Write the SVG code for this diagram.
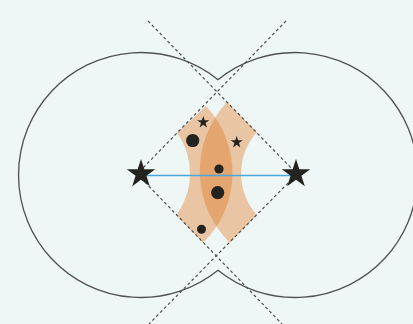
<svg xmlns="http://www.w3.org/2000/svg" xmlns:xlink="http://www.w3.org/1999/xlink" width="413" height="324" viewBox="0 0 413 324">
  <style>
    .bg { fill: #eff7f6; }
    .outline { fill: none; stroke: #505050; stroke-width: 1.3; }
    .cone { fill: none; stroke: #4d4d4d; stroke-width: 1.2; stroke-dasharray: 3 2.6; }
    .region { fill: #df6d10; fill-opacity: 0.36; }
    .ink { fill: #252320; }
    .link { stroke: #4aa6d9; stroke-width: 1.3; fill: none; }
  </style>
  <defs>
    <path id="star" d="M0,-10 L2.245,-3.09 L9.51,-3.09 L3.63,1.18 L5.88,8.09 L0,3.82 L-5.88,8.09 L-3.63,1.18 L-9.51,-3.09 L-2.245,-3.09 Z"/>
  </defs>
  <rect class="bg" x="0" y="0" width="413" height="324"/>

  <g id="circles">
    <path class="outline" d="M218,79.7 A122.5,122.5 0 1 0 218,270.3 A122.5,122.5 0 1 0 218,79.7 Z"/>
  </g>

  <g id="regions">
    <path id="region-left" class="region" d="M206,106 L177,133 A69,69 0 0 1 176,215 L203,243 A98,98 0 0 0 206,106 Z"/>
    <path id="region-right" class="region" d="M227,102 L257,132 A62,62 0 0 0 257,215 L230,243 A101,101 0 0 1 227,102 Z"/>
  </g>

  <g id="connectors">
    <path class="cone" d="M148,21 L296,173"/>
    <path class="cone" d="M286,21 L141,170"/>
    <path class="cone" d="M141,178 L282,324"/>
    <path class="cone" d="M296,175 L149,324"/>
    <line class="link" x1="141" y1="175.5" x2="296" y2="175.5"/>
  </g>

  <g id="star-left"><use xlink:href="#star" class="ink" transform="translate(141,174) scale(1.5)"/></g>
  <g id="star-right"><use xlink:href="#star" class="ink" transform="translate(296,174) scale(1.5)"/></g>
  <g id="star-small-1"><use xlink:href="#star" class="ink" transform="translate(203.3,122.3) scale(0.63)"/></g>
  <g id="star-small-2"><use xlink:href="#star" class="ink" transform="translate(236.7,142.3) scale(0.63)"/></g>

  <g id="dot-1"><circle class="ink" cx="192.7" cy="140.5" r="6.6"/></g>
  <g id="dot-2"><circle class="ink" cx="219" cy="169" r="4.6"/></g>
  <g id="dot-3"><circle class="ink" cx="217.7" cy="192.7" r="6.6"/></g>
  <g id="dot-4"><circle class="ink" cx="201.5" cy="229.3" r="4.5"/></g>
</svg>
